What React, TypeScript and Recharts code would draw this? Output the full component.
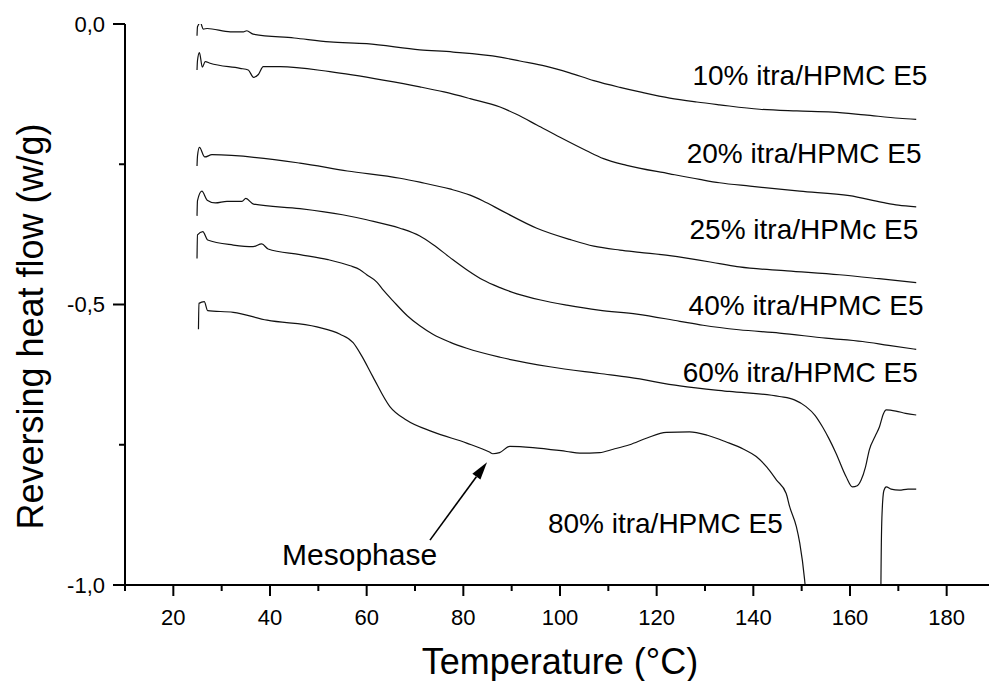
import React from 'react';
import { LineChart, Line, XAxis, YAxis, ReferenceDot, ReferenceLine } from 'recharts';

const FONT = '"Liberation Sans", Arial, Helvetica, sans-serif';

// Reversing heat flow traces (temperature in °C, heat flow in W/g)
const temp10 = [24.9, 25.0, 25.6, 26.2, 27.0, 31.8, 34.5, 35.2, 36.5, 45, 52.4, 60.0, 71.0, 77.9, 87.6, 91.7, 97, 102, 107, 112.4, 117, 122.7, 128.3, 133, 141.3, 149, 156.4, 163, 170.2, 173.7];
const flow10 = [-0.021, -0.005, 0.002, -0.009, -0.008, -0.014, -0.014, -0.012, -0.018, -0.025, -0.032, -0.035, -0.046, -0.050, -0.059, -0.066, -0.075, -0.087, -0.101, -0.113, -0.122, -0.132, -0.139, -0.144, -0.152, -0.155, -0.157, -0.162, -0.168, -0.170];

const temp20 = [24.9, 25.0, 25.4, 26.0, 26.6, 27.6, 33.8, 35.5, 36.6, 37.6, 38.6, 42.1, 52.4, 63.4, 71, 76, 81.4, 87.6, 91, 95.2, 100, 105.5, 109, 113.8, 122.7, 128.9, 133, 139.3, 149.6, 159.9, 166.7, 170, 173.7];
const flow20 = [-0.082, -0.065, -0.051, -0.077, -0.067, -0.070, -0.079, -0.082, -0.095, -0.090, -0.076, -0.076, -0.085, -0.100, -0.112, -0.121, -0.133, -0.148, -0.161, -0.180, -0.202, -0.226, -0.240, -0.252, -0.267, -0.277, -0.283, -0.289, -0.298, -0.306, -0.318, -0.323, -0.326];

const temp25 = [24.9, 25.0, 25.4, 26.5, 28.0, 46.2, 56, 66.9, 71, 77.2, 81.4, 84, 88.2, 95.2, 102, 107, 112.4, 116.5, 122.7, 133, 137.1, 147, 157.8, 166, 173.7];
const flow25 = [-0.253, -0.235, -0.220, -0.237, -0.233, -0.248, -0.262, -0.275, -0.282, -0.294, -0.305, -0.315, -0.334, -0.364, -0.384, -0.396, -0.403, -0.407, -0.413, -0.427, -0.433, -0.440, -0.447, -0.454, -0.461];

const temp40 = [24.9, 25.0, 25.9, 27.0, 28.7, 31.1, 34.2, 35.0, 36.6, 46.2, 55, 60.0, 66.9, 71, 73.7, 77.2, 80.7, 84, 87.6, 91.1, 96, 101.4, 108, 115.9, 124.8, 129.6, 137, 145.4, 155, 162.6, 168, 173.7];
const flow40 = [-0.342, -0.315, -0.298, -0.314, -0.319, -0.316, -0.316, -0.311, -0.321, -0.329, -0.340, -0.349, -0.364, -0.378, -0.393, -0.416, -0.438, -0.456, -0.470, -0.481, -0.492, -0.501, -0.510, -0.517, -0.530, -0.537, -0.545, -0.551, -0.560, -0.566, -0.573, -0.580];

const temp60 = [24.9, 25.0, 26.1, 27.1, 32.4, 36.5, 38.3, 39.6, 46.2, 52, 56.6, 58.6, 60, 62.1, 63.4, 65.5, 68.4, 71, 73.7, 77.2, 80.7, 87.6, 97.9, 108.2, 114.4, 124.8, 135, 145.4, 148.5, 150.9, 152.8, 154.3, 155.7, 157.1, 159.2, 160.5, 161.5, 162.3, 163.2, 164.0, 165.2, 166.1, 166.9, 167.5, 169.5, 171.5, 173.7];
const flow60 = [-0.418, -0.376, -0.370, -0.385, -0.394, -0.397, -0.392, -0.401, -0.411, -0.420, -0.431, -0.438, -0.447, -0.460, -0.474, -0.494, -0.520, -0.538, -0.553, -0.567, -0.578, -0.594, -0.611, -0.623, -0.630, -0.645, -0.655, -0.664, -0.670, -0.682, -0.698, -0.718, -0.740, -0.765, -0.807, -0.825, -0.823, -0.813, -0.790, -0.759, -0.735, -0.718, -0.695, -0.688, -0.690, -0.694, -0.697];

const temp80 = [25.2, 25.3, 26.4, 27.1, 32.4, 39.4, 49.7, 54.5, 57.2, 59, 61.3, 64.8, 68.2, 73.7, 80.7, 85.4, 86.1, 87.5, 89.6, 94.4, 101.4, 104.1, 108.2, 111, 114.4, 118, 122.0, 126.8, 130.5, 134.4, 138, 140.6, 142.8, 144.8, 146.8, 147.5, 148.9, 149.6, 150.6, 151.2, 152, 152.5, 166.2, 166.4, 166.6, 167.0, 167.5, 168.5, 170.2, 172, 173.7];
const flow80 = [-0.544, -0.498, -0.495, -0.511, -0.514, -0.528, -0.540, -0.553, -0.568, -0.592, -0.629, -0.682, -0.706, -0.727, -0.747, -0.763, -0.766, -0.764, -0.753, -0.755, -0.762, -0.765, -0.764, -0.758, -0.750, -0.738, -0.728, -0.727, -0.733, -0.745, -0.758, -0.771, -0.790, -0.813, -0.837, -0.860, -0.896, -0.925, -0.990, -1.05, -1.2, -1.4, -1.4, -1.0, -0.88, -0.832, -0.825, -0.829, -0.831, -0.829, -0.829];

// Curve annotations: text, and the temperature / heat flow where each starts
const curveNames = ['10% itra/HPMC E5', '20% itra/HPMC E5', '25% itra/HPMc E5', '40% itra/HPMC E5', '60% itra/HPMC E5', '80% itra/HPMC E5', 'Mesophase'];
const nameTemps = [127.4, 126.2, 126.8, 126.6, 125.4, 97.5, 42.5];
const nameFlows = [-0.109, -0.248, -0.383, -0.519, -0.638, -0.907, -0.964];
const nameSizes = [28, 28, 28, 28, 28, 28, 30];

// Arrow pointing at the mesophase transition
const arrowTemps = [73.1, 84.9];
const arrowFlows = [-0.920, -0.781];

const xTicks = [10, 20, 30, 40, 50, 60, 70, 80, 90, 100, 110, 120, 130, 140, 150, 160, 170, 180, 190];
const xLabelTicks = [20, 40, 60, 80, 100, 120, 140, 160, 180];
const yTicks = [-1, -0.75, -0.5, -0.25, 0];
const yLabelTicks = [-1, -0.5, 0];

const toPoints = (t: number[], f: number[]) => t.map((x, i) => ({ x, y: f[i] }));

const series = [
  toPoints(temp10, flow10),
  toPoints(temp20, flow20),
  toPoints(temp25, flow25),
  toPoints(temp40, flow40),
  toPoints(temp60, flow60),
  toPoints(temp80, flow80),
];

const XTick = (props: any) => {
  const { x, y, payload } = props;
  const major = xLabelTicks.includes(payload.value);
  return (
    <g>
      <line x1={x} y1={y} x2={x} y2={y + (major ? 11 : 6)} stroke="#000" strokeWidth={2} />
      {major && (
        <text x={x} y={y + 40} textAnchor="middle" fontSize={22} fontFamily={FONT} fill="#000">
          {payload.value}
        </text>
      )}
    </g>
  );
};

const YTick = (props: any) => {
  const { x, y, payload } = props;
  const major = yLabelTicks.includes(payload.value);
  return (
    <g>
      <line x1={x - (major ? 12 : 6)} y1={y} x2={x} y2={y} stroke="#000" strokeWidth={2} />
      {major && (
        <text x={x - 20} y={y} textAnchor="end" dominantBaseline="central" fontSize={22} fontFamily={FONT} fill="#000">
          {payload.value.toFixed(1).replace('.', ',')}
        </text>
      )}
    </g>
  );
};

const Arrow = (props: any) => {
  const { x1, y1, x2, y2 } = props;
  const ang = Math.atan2(y2 - y1, x2 - x1);
  const len = 18;
  const half = 5;
  const bx = x2 - len * Math.cos(ang);
  const by = y2 - len * Math.sin(ang);
  const px = -Math.sin(ang) * half;
  const py = Math.cos(ang) * half;
  return (
    <g>
      <line x1={x1} y1={y1} x2={bx} y2={by} stroke="#000" strokeWidth={1.6} />
      <polygon points={`${x2},${y2} ${bx + px},${by + py} ${bx - px},${by - py}`} fill="#000" />
    </g>
  );
};

const makeNameShape = (text: string, size: number) => (props: any) => (
  <text x={props.cx} y={props.cy} fontSize={size} fontFamily={FONT} fill="#000" textAnchor="start">
    {text}
  </text>
);

const XTitle = (props: any) => {
  const vb = props.viewBox;
  return (
    <text x={vb.x + vb.width / 2} y={674} textAnchor="middle" fontSize={36} fontFamily={FONT} fill="#000">
      Temperature (°C)
    </text>
  );
};

const YTitle = (props: any) => {
  const vb = props.viewBox;
  const cx = 30;
  const cy = vb.y + vb.height / 2 + 22;
  return (
    <text
      x={cx}
      y={cy}
      transform={`rotate(-90, ${cx}, ${cy})`}
      textAnchor="middle"
      dominantBaseline="central"
      fontSize={36}
      fontFamily={FONT}
      fill="#000"
    >
      Reversing heat flow (w/g)
    </text>
  );
};

export default function App() {
  return (
    <div style={{ position: 'fixed', left: 0, top: 0, width: 989, height: 681, overflow: 'hidden', background: '#fff' }}>
      <LineChart width={1000} height={681} margin={{ top: 24, right: 5, left: 0, bottom: 0 }}>
        <XAxis
          dataKey="x"
          type="number"
          domain={[10, 190]}
          ticks={xTicks}
          interval={0}
          height={96}
          tickSize={0}
          tickMargin={0}
          tickLine={false}
          tick={<XTick />}
          axisLine={{ stroke: '#000', strokeWidth: 2 }}
          label={<XTitle />}
        />
        <YAxis
          type="number"
          domain={[-1, 0]}
          allowDataOverflow
          ticks={yTicks}
          interval={0}
          width={125}
          tickSize={0}
          tickMargin={0}
          tickLine={false}
          tick={<YTick />}
          axisLine={{ stroke: '#000', strokeWidth: 2 }}
          label={<YTitle />}
        />
        {series.map((pts, i) => (
          <Line
            key={i}
            data={pts}
            dataKey="y"
            type="monotone"
            stroke="#111"
            strokeWidth={1.2}
            dot={false}
            activeDot={false}
            isAnimationActive={false}
          />
        ))}
        <ReferenceLine
          segment={[
            { x: arrowTemps[0], y: arrowFlows[0] },
            { x: arrowTemps[1], y: arrowFlows[1] },
          ]}
          shape={<Arrow />}
        />
        {curveNames.map((name, i) => (
          <ReferenceDot key={name} x={nameTemps[i]} y={nameFlows[i]} r={0} shape={makeNameShape(name, nameSizes[i])} />
        ))}
      </LineChart>
    </div>
  );
}
